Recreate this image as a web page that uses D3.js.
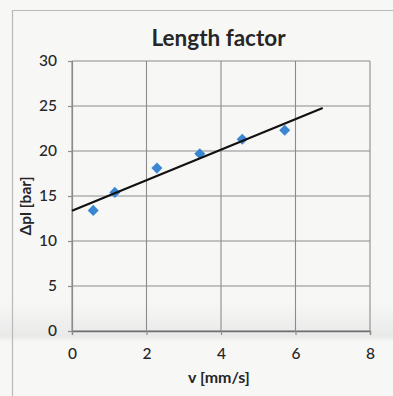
<!DOCTYPE html>
<html>
<head>
<meta charset="utf-8">
<script src="https://cdn.jsdelivr.net/npm/d3@7"></script>
<style>
  html, body { margin: 0; padding: 0; background: #f6f6f5; }
  svg { display: block; }
  text { font-family: Lato, "Noto Sans", sans-serif; fill: #262626; }
</style>
</head>
<body>
<svg id="chart" width="393" height="396"></svg>
<script>
// Measured pressure drop against piston speed
const speeds = [0.57, 1.15, 2.28, 3.43, 4.57, 5.71];      // v [mm/s]
const pressures = [13.4, 15.4, 18.1, 19.7, 21.3, 22.3];   // Δpl [bar]
const xTicks = [0, 2, 4, 6, 8];
const yTicks = [0, 5, 10, 15, 20, 25, 30];
const trendRange = [0, 6.73];                              // extent of the fitted line

const title = "Length factor";
const xLabel = "v [mm/s]";
const yLabel = "Δpl [bar]";

const W = 393, H = 396;
const margin = { top: 61, right: 23, bottom: 65, left: 72 };

const svg = d3.select("#chart");

// soft paper background with a faint fold shadow
const defs = svg.append("defs");
const fold = defs.append("linearGradient").attr("id", "fold")
  .attr("x1", 0).attr("y1", 0).attr("x2", 0).attr("y2", 1);
fold.append("stop").attr("offset", "0%").attr("stop-color", "#d4d4d4").attr("stop-opacity", 0);
fold.append("stop").attr("offset", "60%").attr("stop-color", "#d0d0d0").attr("stop-opacity", 0.25);
fold.append("stop").attr("offset", "85%").attr("stop-color", "#c8c8c8").attr("stop-opacity", 0.3);
fold.append("stop").attr("offset", "100%").attr("stop-color", "#d4d4d4").attr("stop-opacity", 0);

svg.append("rect").attr("width", W).attr("height", H).attr("fill", "#f7f7f6");
svg.append("rect").attr("x", 0).attr("y", 302).attr("width", W).attr("height", 40)
  .attr("fill", "url(#fold)");

// chart frame (left and top edges visible)
svg.append("path")
  .attr("d", `M12.5,${H} V10.5 H${W}`)
  .attr("fill", "none").attr("stroke", "#b9b9b9").attr("stroke-width", 1.2);

const x = d3.scaleLinear().domain([0, 8]).range([margin.left, W - margin.right]);
const y = d3.scaleLinear().domain([0, 30]).range([H - margin.bottom, margin.top]);

// horizontal gridlines and y-axis
const yAxis = svg.append("g")
  .attr("transform", `translate(${margin.left},0)`)
  .call(d3.axisLeft(y).tickValues(yTicks).tickSize(4).tickPadding(11).tickFormat(d3.format("d")));
yAxis.select(".domain").attr("stroke", "#8c8c8c").attr("stroke-width", 1.2);
yAxis.selectAll(".tick line").attr("stroke", "#8c8c8c").attr("stroke-width", 1.2);
yAxis.selectAll(".tick text").attr("font-size", 15.5).attr("font-weight", 500)
  .attr("fill", "#262626").attr("font-family", "Lato, sans-serif");

svg.append("g").selectAll("line.hgrid").data(yTicks).join("line")
  .attr("class", "hgrid")
  .attr("x1", margin.left).attr("x2", W - margin.right)
  .attr("y1", d => y(d)).attr("y2", d => y(d))
  .attr("stroke", "#8c8c8c").attr("stroke-width", 1.1);

// vertical gridlines and x-axis
const xAxis = svg.append("g")
  .attr("transform", `translate(0,${H - margin.bottom})`)
  .call(d3.axisBottom(x).tickValues(xTicks).tickSize(4).tickPadding(13).tickFormat(d3.format("d")));
xAxis.select(".domain").attr("stroke", "#6f6f6f").attr("stroke-width", 1.3);
xAxis.selectAll(".tick line").attr("stroke", "#8c8c8c").attr("stroke-width", 1.2);
xAxis.selectAll(".tick text").attr("font-size", 15.5).attr("font-weight", 500)
  .attr("fill", "#262626").attr("font-family", "Lato, sans-serif");

svg.append("g").selectAll("line.vgrid").data(xTicks).join("line")
  .attr("class", "vgrid")
  .attr("x1", d => x(d)).attr("x2", d => x(d))
  .attr("y1", y(0)).attr("y2", y(30))
  .attr("stroke", "#8c8c8c").attr("stroke-width", 1.1);

// least-squares linear trend through the measurements
const mx = d3.mean(speeds), my = d3.mean(pressures);
const sxy = d3.sum(speeds, (v, i) => (v - mx) * (pressures[i] - my));
const sxx = d3.sum(speeds, v => (v - mx) * (v - mx));
const slope = sxy / sxx, intercept = my - slope * mx;

// data markers (diamonds)
const points = speeds.map((v, i) => ({ v, p: pressures[i] }));
svg.append("g").selectAll("path.pt").data(points).join("path")
  .attr("class", "pt")
  .attr("transform", d => `translate(${x(d.v)},${y(d.p)})`)
  .attr("d", d3.symbol(d3.symbolDiamond2, 78))
  .attr("fill", "#3b86d2");

svg.append("line")
  .attr("x1", x(trendRange[0])).attr("y1", y(intercept + slope * trendRange[0]))
  .attr("x2", x(trendRange[1])).attr("y2", y(intercept + slope * trendRange[1]))
  .attr("stroke", "#111").attr("stroke-width", 2.1);

// titles
svg.append("text").attr("x", 218.5).attr("y", 46)
  .attr("text-anchor", "middle").attr("font-size", 22.5).attr("font-weight", 700)
  .attr("fill", "#1e1e1e").text(title);

svg.append("text").attr("x", x(4) - 2).attr("y", 383)
  .attr("text-anchor", "middle").attr("font-size", 16).attr("font-weight", 700)
  .text(xLabel);

svg.append("text")
  .attr("transform", "translate(31,206) rotate(-90)")
  .attr("text-anchor", "middle").attr("font-size", 15.5).attr("font-weight", 700)
  .text(yLabel);
</script>
</body>
</html>
